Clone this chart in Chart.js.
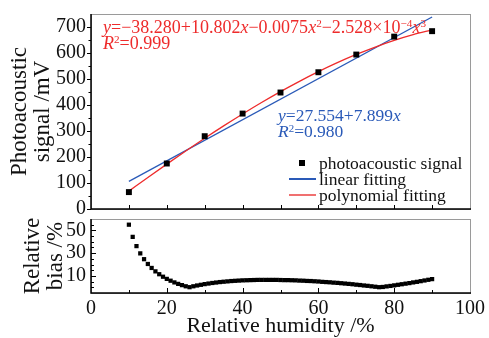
<!DOCTYPE html>
<html>
<head>
<meta charset="utf-8">
<script src="https://cdn.jsdelivr.net/npm/chart.js@4.4.0/dist/chart.umd.min.js"></script>
<style>
  html, body { margin: 0; padding: 0; background: #fff; }
  #wrap { position: relative; width: 489px; height: 338px; font-family: 'Liberation Serif', serif; overflow: hidden; }
  canvas { position: absolute; left: 0; }
  #topChart { top: 0; }
  #bottomChart { top: 212px; }
  .note { position: absolute; white-space: nowrap; line-height: 16px; }
  .note sup { font-size: 0.62em; vertical-align: 0; position: relative; top: -0.5em; line-height: 0; }
  .red { color: #ee2b2b; font-size: 18px; }
  .blue { color: #2a5ab8; font-size: 17.5px; }
  .leg { position: absolute; left: 289px; height: 16px; line-height: 16px; font-size: 17.5px; white-space: nowrap; color: #111; }
  .sw { display: inline-block; width: 27px; height: 16px; vertical-align: top; margin-right: 3px; position: relative; }
  .sw.sq::after { content: ''; position: absolute; left: 10px; top: 5px; width: 6px; height: 6px; background: #000; }
  .sw.ln::after { content: ''; position: absolute; left: 0; top: 7px; width: 27px; height: 2px; background: var(--c); }
</style>
</head>
<body>
<div id="wrap">
  <canvas id="topChart" width="489" height="215"></canvas>
  <canvas id="bottomChart" width="489" height="126"></canvas>

  <div class="note red" style="left:103px; top:19px;">
    <i>y</i>=−38.280+10.802<i>x</i>−0.0075<i>x</i><sup>2</sup>−2.528×10<sup>−4</sup><i>x</i><sup>3</sup><br>
    <i>R</i><sup>2</sup>=0.999
  </div>
  <div class="note blue" style="left:278px; top:107px;">
    <i>y</i>=27.554+7.899<i>x</i><br>
    <i>R</i><sup>2</sup>=0.980
  </div>

  <div class="leg" style="top:155px"><span class="sw sq"></span>photoacoustic signal</div>
  <div class="leg" style="top:171px"><span class="sw ln" style="--c:#2a5ab8"></span>linear fitting</div>
  <div class="leg" style="top:187px"><span class="sw ln" style="--c:#f07070"></span>polynomial fitting</div>
</div>

<script>
const humidity = [10, 20, 30, 40, 50, 60, 70, 80, 90];
const signal = [65, 175, 280, 367, 448, 526, 594, 663, 684];

// lineare Anpassung
const linearX = [10, 90];
const linearY = [106.5, 738.5];

// Polynom-Anpassung
const polyX = [10, 15, 20, 25, 30, 35, 40, 45, 50, 55, 60, 65, 70, 75, 80, 85, 90];
const polyY = [68.7, 121.2, 172.7, 223.1, 272.2, 319.8, 365.6, 409.6, 451.5, 491.1, 528.2, 562.7, 594.4, 623.0, 648.5, 670.5, 688.9];

// relative Abweichung
const biasX = [10, 11, 12, 13, 14, 15, 16, 17, 18, 19, 20, 21, 22, 23, 24, 25, 26, 27, 28, 29,
    30, 31, 32, 33, 34, 35, 36, 37, 38, 39, 40, 41, 42, 43, 44, 45, 46, 47, 48, 49,
    50, 51, 52, 53, 54, 55, 56, 57, 58, 59, 60, 61, 62, 63, 64, 65, 66, 67, 68, 69,
    70, 71, 72, 73, 74, 75, 76, 77, 78, 79, 80, 81, 82, 83, 84, 85, 86, 87, 88, 89, 90];
const biasY = [55.0, 44.3, 36.2, 29.8, 24.7, 20.5, 17.0, 14.0, 11.5, 9.3, 7.4, 5.8, 4.3, 3.0, 1.9, 0.9, 0.1, 0.9, 1.6, 2.2,
    2.8, 3.3, 3.8, 4.2, 4.6, 4.9, 5.2, 5.5, 5.7, 5.9, 6.1, 6.2, 6.3, 6.4, 6.5, 6.5, 6.5, 6.5, 6.5, 6.5,
    6.4, 6.3, 6.3, 6.2, 6.1, 5.9, 5.8, 5.6, 5.5, 5.3, 5.1, 4.8, 4.6, 4.4, 4.1, 3.9, 3.6, 3.3, 3.0, 2.7,
    2.3, 2.0, 1.6, 1.3, 0.9, 0.5, 0.1, 0.3, 0.8, 1.2, 1.7, 2.2, 2.7, 3.2, 3.7, 4.3, 4.8, 5.4, 6.0, 6.6, 7.2];

// Achsenbeschriftungen
const signalTicks = [0, 100, 200, 300, 400, 500, 600, 700];
const biasTicks = [10, 30, 50];
const humidityTicks = [0, 20, 40, 60, 80, 100];

const zip = (xs, ys) => xs.map((x, i) => ({x: x, y: ys[i]}));

const serif = 'Liberation Serif';
const tickFont = {family: serif, size: 20};
const titleFont = {family: serif, size: 23, lineHeight: 1.0};

// keine automatische Randzugabe fuer Beschriftungen
const noLabelPad = (scale) => {
    scale.paddingTop = 0;
    scale.paddingBottom = 0;
    scale.paddingLeft = 0;
    scale.paddingRight = 0;
};

// Rahmen + Teilstriche selbst zeichnen
const frameTicks = {
    id: 'frameTicks',
    afterDatasetsDraw(chart, args, opts) {
        const ctx = chart.ctx;
        const a = chart.chartArea;
        ctx.save();
        ctx.strokeStyle = '#9a9a9a';
        ctx.lineWidth = 1;
        ctx.strokeRect(a.left + 0.5, a.top + 0.5, a.right - a.left, a.bottom - a.top);
        ctx.strokeStyle = '#000';
        ctx.lineWidth = 1.5;
        ctx.beginPath();
        ctx.moveTo(a.left, a.top);
        ctx.lineTo(a.left, a.bottom);
        ctx.lineTo(a.right + 1, a.bottom);
        ctx.stroke();
        ctx.lineWidth = 1;
        (opts.marks || []).forEach(m => {
            const scale = chart.scales[m.axis];
            m.values.forEach(v => {
                const p = Math.round(scale.getPixelForValue(v)) + 0.5;
                ctx.beginPath();
                if (m.axis === 'x') {
                    ctx.moveTo(p, a.bottom);
                    ctx.lineTo(p, a.bottom + (m.out ? m.len : -m.len));
                } else {
                    ctx.moveTo(a.left, p);
                    ctx.lineTo(a.left + (m.out ? -m.len : m.len), p);
                }
                ctx.stroke();
            });
        });
        ctx.restore();
    }
};

function drawCharts() {
    Chart.defaults.font.family = serif;

    // oberes Diagramm
    new Chart(document.getElementById('topChart'), {
        type: 'scatter',
        data: {
            datasets: [
                {
                    data: zip(humidity, signal),
                    pointStyle: 'rect',
                    pointRadius: 4.2,
                    backgroundColor: '#000',
                    borderWidth: 0,
                    order: 0
                },
                {
                    data: zip(linearX, linearY),
                    showLine: true,
                    borderColor: '#2a5ab8',
                    borderWidth: 1.3,
                    pointRadius: 0,
                    order: 2
                },
                {
                    data: zip(polyX, polyY),
                    showLine: true,
                    borderColor: '#ee2b2b',
                    borderWidth: 1.3,
                    pointRadius: 0,
                    cubicInterpolationMode: 'monotone',
                    order: 1
                }
            ]
        },
        options: {
            responsive: false,
            animation: false,
            layout: {autoPadding: false, padding: {left: 0, right: 19, top: 14, bottom: 6}},
            plugins: {
                legend: {display: false},
                tooltip: {enabled: false},
                frameTicks: {
                    marks: [
                        {axis: 'x', values: [10, 20, 30, 40, 50, 60, 70, 80, 90], len: 4},
                        {axis: 'y', values: signalTicks, len: 4, out: true},
                        {axis: 'y', values: [50, 150, 250, 350, 450, 550, 650], len: 2.5, out: true}
                    ]
                }
            },
            scales: {
                x: {display: false, min: 0, max: 100, afterFit: noLabelPad},
                y: {
                    min: 0,
                    max: 750,
                    grid: {display: false, drawTicks: false},
                    border: {display: false},
                    afterBuildTicks: (axis) => { axis.ticks = signalTicks.map(v => ({value: v})); },
                    afterFit: (scale) => { noLabelPad(scale); scale.width = 91; },
                    ticks: {font: tickFont, color: '#111', padding: 5, autoSkip: false},
                    title: {
                        display: true,
                        text: ['Photoacoustic', 'signal /mV'],
                        font: titleFont,
                        color: '#111',
                        padding: {top: 8.5, bottom: 0}
                    }
                }
            }
        },
        plugins: [frameTicks]
    });

    // unteres Diagramm
    new Chart(document.getElementById('bottomChart'), {
        type: 'scatter',
        data: {
            datasets: [
                {
                    data: zip(biasX, biasY),
                    pointStyle: 'rect',
                    pointRadius: 3,
                    backgroundColor: '#000',
                    borderWidth: 0
                }
            ]
        },
        options: {
            responsive: false,
            animation: false,
            layout: {autoPadding: false, padding: {left: 13, right: 19, top: 7, bottom: 0}},
            plugins: {
                legend: {display: false},
                tooltip: {enabled: false},
                frameTicks: {
                    marks: [
                        {axis: 'x', values: [20, 40, 60, 80], len: 5},
                        {axis: 'x', values: [10, 30, 50, 70, 90], len: 3},
                        {axis: 'y', values: biasTicks, len: 5},
                        {axis: 'y', values: [0, 5, 15, 20, 25, 35, 40, 45, 55], len: 3}
                    ]
                }
            },
            scales: {
                x: {
                    min: 0,
                    max: 100,
                    grid: {display: false, drawTicks: false},
                    border: {display: false},
                    afterBuildTicks: (axis) => { axis.ticks = humidityTicks.map(v => ({value: v})); },
                    afterFit: (scale) => { noLabelPad(scale); scale.height = 45; },
                    ticks: {font: tickFont, color: '#111', padding: 4, maxRotation: 0, autoSkip: false},
                    title: {
                        display: true,
                        text: 'Relative humidity /%',
                        font: {family: serif, size: 22, lineHeight: 1.0},
                        color: '#111',
                        padding: {top: 0, bottom: 1}
                    }
                },
                y: {
                    min: -5,
                    max: 60,
                    grid: {display: false, drawTicks: false},
                    border: {display: false},
                    afterBuildTicks: (axis) => { axis.ticks = biasTicks.map(v => ({value: v})); },
                    afterFit: (scale) => { noLabelPad(scale); scale.width = 78; },
                    ticks: {font: tickFont, color: '#111', padding: 5, autoSkip: false},
                    title: {
                        display: true,
                        text: ['Relative', 'bias /%'],
                        font: titleFont,
                        color: '#111',
                        padding: {top: 8.5, bottom: 0}
                    }
                }
            }
        },
        plugins: [frameTicks]
    });
}

// Schrift zuerst laden, sonst zeichnet das Canvas mit Ersatzschrift
Promise.all([
    document.fonts.load('20px "Liberation Serif"'),
    document.fonts.load('italic 17px "Liberation Serif"')
]).then(drawCharts, drawCharts);
</script>
</body>
</html>
